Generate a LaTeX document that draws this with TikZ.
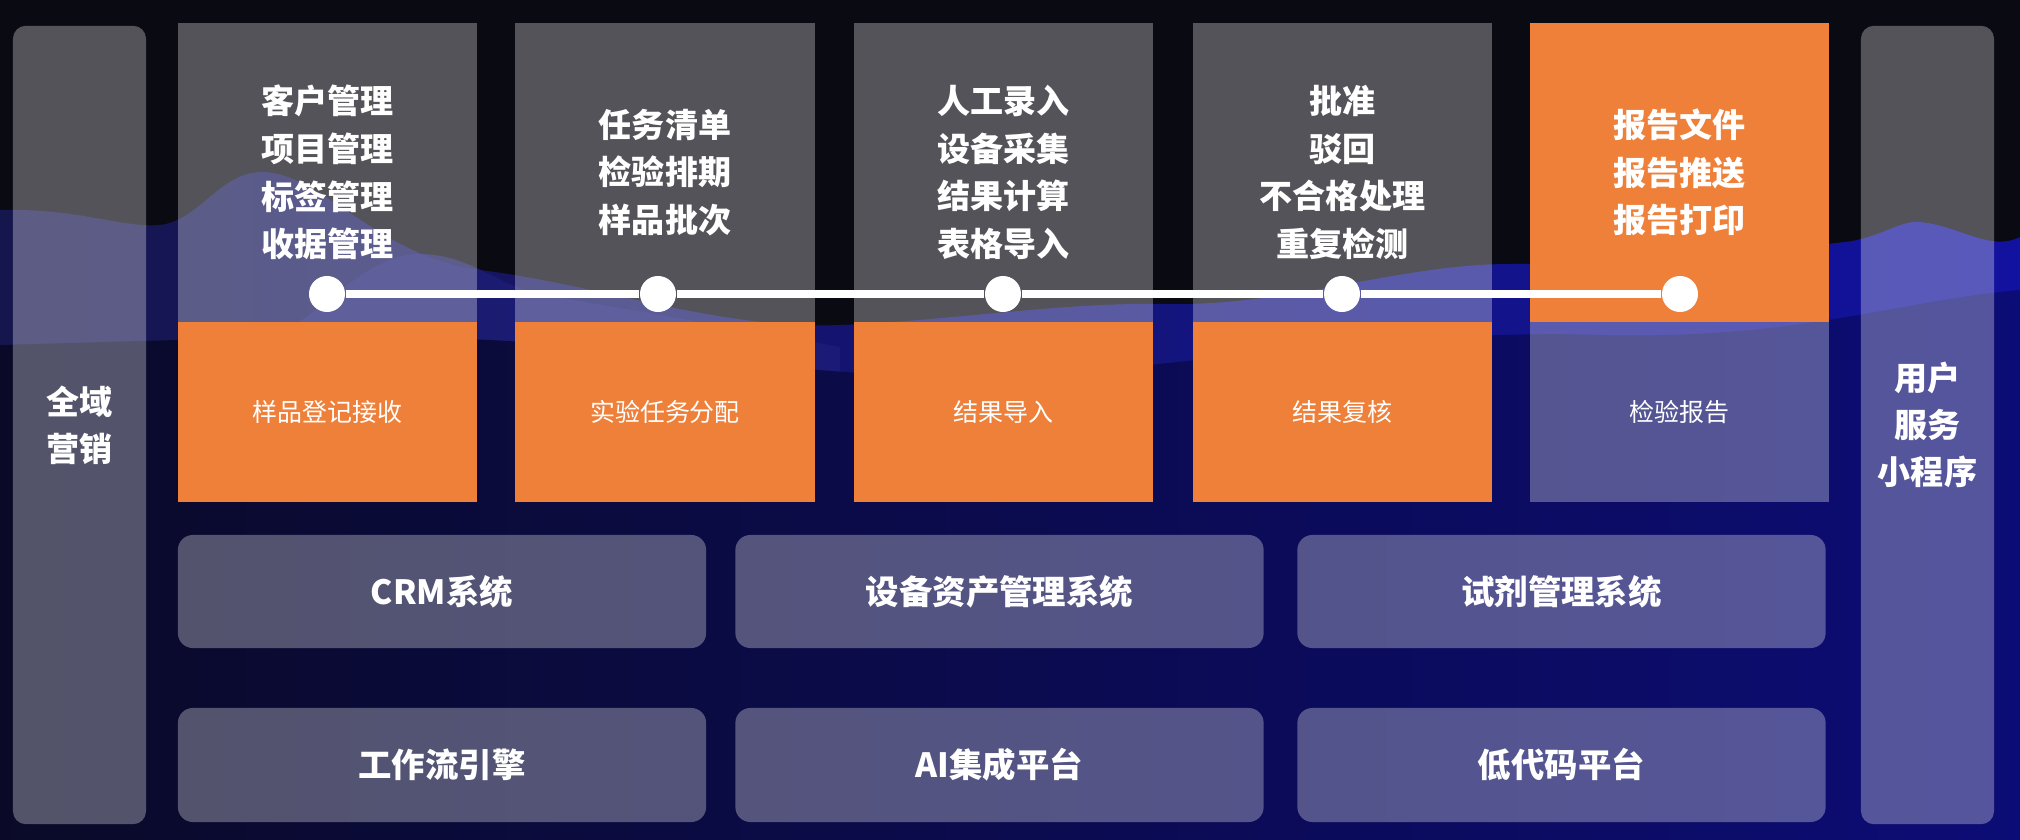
\documentclass[tikz,border=0pt]{standalone}
\usepackage{fontspec}
\setmainfont{Noto Sans CJK SC}
\definecolor{bgdark}{HTML}{0A0A12}
\definecolor{orng}{HTML}{EE803A}
\definecolor{waveL}{HTML}{16164E}
\definecolor{waveR}{HTML}{1212A0}
\definecolor{waveH}{HTML}{1E1E7A}
\definecolor{deepL}{HTML}{0A0A28}
\definecolor{deepR}{HTML}{0C0C76}
\begin{document}
\begin{tikzpicture}[x=0.01cm,y=-0.01cm,
  glass/.style={fill=white,fill opacity=0.3,draw=none,inner sep=0pt,text opacity=1,text=white,align=center},
  ornbox/.style={fill=orng,draw=none,inner sep=0pt,text=white,align=center},
  topsize/.style={minimum width=2.99cm,minimum height=2.99cm},
  lowsize/.style={minimum width=2.99cm,minimum height=1.8cm},
  bigtxt/.style={font=\bfseries\fontsize{9.4pt}{13.55pt}\selectfont},
  smalltxt/.style={font=\fontsize{7.1pt}{9pt}\selectfont},
  sidebar/.style={glass,rounded corners=0.13cm,minimum width=1.33cm,minimum height=7.98cm,font=\bfseries\fontsize{9.4pt}{13.4pt}\selectfont},
  rowbox/.style={glass,rounded corners=0.15cm,minimum width=5.28cm,font=\bfseries\fontsize{9.5pt}{12pt}\selectfont},
  dot/.style={circle,fill=white,draw=none,minimum size=0.36cm,inner sep=0pt},
  link/.style={white,line width=0.08cm}]
\useasboundingbox (0,0) rectangle (2020,840);
% background
\fill[bgdark] (0,0) rectangle (2020,840);
\shade[left color=waveL,right color=waveR]
  (0,210) .. controls (80,208) and (120,228) .. (160,225)
  .. controls (200,220) and (220,172) .. (262,172)
  .. controls (320,172) and (380,258) .. (480,270)
  .. controls (600,285) and (720,330) .. (840,325)
  .. controls (960,320) and (1060,302) .. (1170,304)
  .. controls (1290,306) and (1400,264) .. (1510,264)
  .. controls (1620,264) and (1760,252) .. (1845,242)
  .. controls (1880,238) and (1900,220) .. (1920,222)
  .. controls (1960,226) and (1990,252) .. (2020,237)
  -- (2020,840) -- (0,840) -- cycle;
\fill[waveH,fill opacity=0.7]
  (280,335) .. controls (330,305) and (370,254) .. (419,254)
  .. controls (470,254) and (500,287) .. (540,294)
  .. controls (640,312) and (760,332) .. (840,347)
  -- (840,840) -- (280,840) -- cycle;
\shade[left color=deepL,right color=deepR]
  (0,345) .. controls (200,340) and (400,330) .. (560,345)
  .. controls (750,360) and (900,390) .. (1100,370)
  .. controls (1300,350) and (1450,330) .. (1600,335)
  .. controls (1800,340) and (1900,300) .. (2020,290)
  -- (2020,840) -- (0,840) -- cycle;
% side bars
\node[sidebar] (left) at (79.5,425) {全域\\营销};
\node[sidebar] (right) at (1927.5,425) {用户\\服务\\小程序};
% process columns
\node[glass,topsize,bigtxt] (t1) at (327.5,172.5) {客户管理\\项目管理\\标签管理\\收据管理};
\node[ornbox,lowsize,smalltxt] (b1) at (327.5,412) {样品登记接收};
\node[glass,topsize,bigtxt] (t2) at (665,172.5) {任务清单\\检验排期\\样品批次};
\node[ornbox,lowsize,smalltxt] (b2) at (665,412) {实验任务分配};
\node[glass,topsize,bigtxt] (t3) at (1003.5,172.5) {人工录入\\设备采集\\结果计算\\表格导入};
\node[ornbox,lowsize,smalltxt] (b3) at (1003.5,412) {结果导入};
\node[glass,topsize,bigtxt] (t4) at (1342.5,172.5) {批准\\驳回\\不合格处理\\重复检测};
\node[ornbox,lowsize,smalltxt] (b4) at (1342.5,412) {结果复核};
\node[ornbox,topsize,bigtxt] (t5) at (1679.5,172.5) {报告文件\\报告推送\\报告打印};
\node[glass,lowsize,smalltxt] (b5) at (1679.5,412) {检验报告};
% timeline
\node[dot] (d1) at (327,294) {};
\node[dot] (d2) at (658,294) {};
\node[dot] (d3) at (1003,294) {};
\node[dot] (d4) at (1342,294) {};
\node[dot] (d5) at (1680,294) {};
\draw[link] (d1) -- (d2);
\draw[link] (d2) -- (d3);
\draw[link] (d3) -- (d4);
\draw[link] (d4) -- (d5);
% system rows
\node[rowbox,minimum height=1.13cm] (crm) at (442,591.5) {CRM系统};
\node[rowbox,minimum height=1.13cm] (asset) at (999.5,591.5) {设备资产管理系统};
\node[rowbox,minimum height=1.13cm] (reag) at (1561.5,591.5) {试剂管理系统};
\node[rowbox,minimum height=1.14cm] (wf) at (442,765) {工作流引擎};
\node[rowbox,minimum height=1.14cm] (ai) at (999.5,765) {AI集成平台};
\node[rowbox,minimum height=1.14cm] (lc) at (1561.5,765) {低代码平台};
\end{tikzpicture}
\end{document}
